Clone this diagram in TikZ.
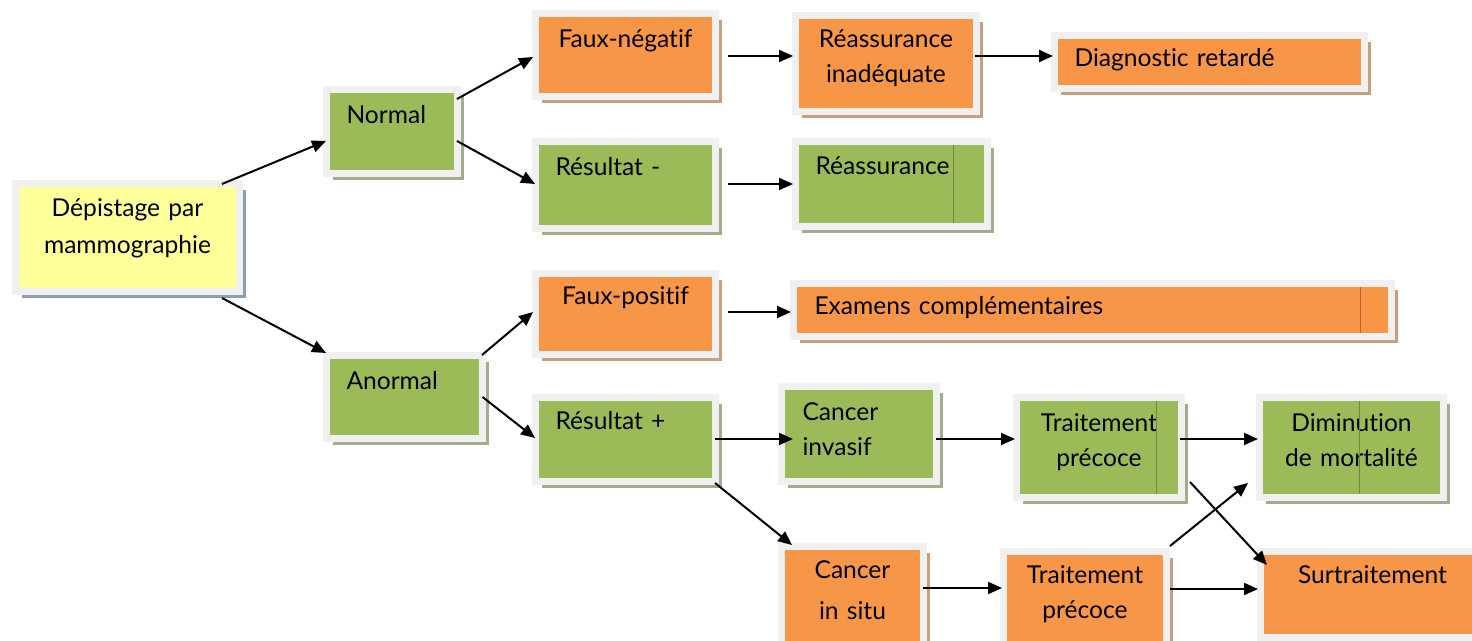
\documentclass[tikz,border=0pt]{standalone}
\usepackage{fontspec}
\setmainfont{Lato}[Ligatures={NoCommon}]
\usetikzlibrary{arrows.meta,shadows}

\newlength\px
\setlength\px{0.02cm}

\definecolor{boxframe}{HTML}{F0F0F0}
\definecolor{boxgreen}{HTML}{9BBB59}
\definecolor{boxorange}{HTML}{F79646}
\definecolor{boxyellow}{HTML}{FFFF99}
\definecolor{shadowgreen}{HTML}{A3AD8C}
\definecolor{shadoworange}{HTML}{C9A07E}
\definecolor{shadowyellow}{HTML}{8E9CB6}
\definecolor{gridgreen}{HTML}{6F8A3C}
\definecolor{gridorange}{HTML}{B5652E}

\begin{document}
\begin{tikzpicture}[x=1\px,y=-1\px]

\tikzset{
  BoxStyle/.style = { rectangle, draw = boxframe, line width = 7\px,
                      outer sep = 0pt, inner ysep = 0pt, inner xsep = 4\px,
                      anchor = north west,
                      font = \fontsize{14}{19.4}\selectfont },
  GreenStyle/.style = { BoxStyle, fill = boxgreen,
                        drop shadow = {shadow xshift = 6.5\px, shadow yshift = -6.5\px,
                                       fill = shadowgreen, opacity = 1} },
  OrangeStyle/.style = { BoxStyle, fill = boxorange,
                         drop shadow = {shadow xshift = 6.5\px, shadow yshift = -6.5\px,
                                        fill = shadoworange, opacity = 1} },
  YellowStyle/.style = { BoxStyle, fill = boxyellow,
                         drop shadow = {shadow xshift = 6.5\px, shadow yshift = -6.5\px,
                                        fill = shadowyellow, opacity = 1} },
  ArrowStyle/.style = { line width = 0.04cm, -{Triangle[length = 0.28cm, width = 0.24cm]} },
  GridStyle/.style = { line width = 0.5pt } }

  \useasboundingbox (0,0) rectangle (1472,641);
  \clip (0,0) rectangle (1472,641);

  \node[YellowStyle, align=center, text width=216\px, text height=33.5\px, text depth=74.5\px] (dep) at (15.5,183.5) {Dépistage par\\[2\px]mammographie};

  \node[GreenStyle, align=left, inner xsep=20\px, text width=91\px, text height=34.5\px, text depth=49.5\px] (nor) at (326.5,89.5) {Normal};
  \node[GreenStyle, align=left, inner xsep=20\px, text width=116\px, text height=34.5\px, text depth=48.5\px] (ano) at (326.5,355.5) {Anormal};

  \node[OrangeStyle, align=center, text width=172\px, text height=34.5\px, text depth=48.5\px] (fneg) at (535.5,13.5) {Faux-négatif};
  \node[GreenStyle, align=left, inner xsep=20\px, text width=140\px, text height=34.5\px, text depth=52.5\px] (rmin) at (535.5,141.5) {Résultat -};
  \node[OrangeStyle, align=center, text width=172\px, text height=31.5\px, text depth=49.5\px] (fpos) at (535.5,273.5) {Faux-positif};
  \node[GreenStyle, align=left, inner xsep=20\px, text width=140\px, text height=32.5\px, text depth=51.5\px] (rplus) at (535.5,397.5) {Résultat +};

  \node[OrangeStyle, align=center, text width=173\px, text height=32.5\px, text depth=63.5\px] (rinad) at (795.5,15.5) {Réassurance\\inadéquate};
  \node[GreenStyle, align=left, inner xsep=20\px, text width=152\px, text height=33.5\px, text depth=51.5\px] (reas) at (795.5,141.5) {Réassurance};
  \node[OrangeStyle, align=left, inner xsep=21\px, text width=556\px, text height=31.5\px, text depth=21.5\px] (exam) at (793.5,283.5) {Examens complémentaires};
  \node[GreenStyle, align=left, inner xsep=21\px, text width=113\px, text height=34.5\px, text depth=60.5\px] (cinv) at (781.5,386.5) {Cancer\\invasif};
  \node[OrangeStyle, align=center, text width=134\px, text height=32.5\px, text depth=67.5\px] (csit) at (781.5,546.5) {Cancer\\[6\px]in situ};

  \node[OrangeStyle, align=left, inner xsep=20\px, text width=270\px, text height=31.5\px, text depth=21.5\px] (diag) at (1054.5,35.5) {Diagnostic retardé};
  \node[GreenStyle, align=center, text width=157\px, text height=34.5\px, text depth=65.5\px] (tv) at (1016.5,397.5) {Traitement\\précoce};
  \node[OrangeStyle, align=center, text width=155\px, text height=32.5\px, text depth=62.5\px] (to) at (1003.5,551.5) {Traitement\\précoce};

  \node[GreenStyle, align=center, text width=176\px, text height=34.5\px, text depth=65.5\px] (dim) at (1259.5,397.5) {Diminution\\de mortalité};
  \node[OrangeStyle, align=center, text width=216\px, text height=32.5\px, text depth=53.5\px] (surt) at (1260.5,551.5) {Surtraitement};

  % grid lines showing through the boxes
  \draw[GridStyle, gridgreen] ([shift={(157.5,3.5)}]reas.north west) -- ([shift={(157.5,-3.5)}]reas.south west);
  \draw[GridStyle, gridgreen] ([shift={(139.5,3.5)}]tv.north west) -- ([shift={(139.5,-3.5)}]tv.south west);
  \draw[GridStyle, gridgreen] ([shift={(99.5,3.5)}]dim.north west) -- ([shift={(99.5,-3.5)}]dim.south west);
  \draw[GridStyle, gridorange] ([shift={(566.5,3.5)}]exam.north west) -- ([shift={(566.5,-3.5)}]exam.south west);

  \draw[ArrowStyle] ([shift={(-17.5,0.5)}]dep.north east) -- ([shift={(-0.5,9.5)}]nor.west);
  \draw[ArrowStyle] ([shift={(-17.5,6.5)}]dep.south east) -- ([shift={(-0.5,-2.5)}]ano.north west);

  \draw[ArrowStyle] ([shift={(-0.5,9.5)}]nor.north east) -- ([shift={(-2.5,2)}]fneg.west);
  \draw[ArrowStyle] ([shift={(-0.5,9.5)}]nor.east) -- ([shift={(-0.5,-1)}]rmin.west);
  \draw[ArrowStyle] ([shift={(-0.5,-0.5)}]ano.north east) -- ([shift={(-2.5,-2)}]fpos.west);
  \draw[ArrowStyle] (ano.east) -- ([shift={(-0.5,-1.5)}]rplus.west);

  \draw[ArrowStyle] ([shift={(12.5,1)}]fneg.east) -- ([shift={(-2.5,-7.5)}]rinad.west);
  \draw[ArrowStyle] ([shift={(-1.5,-7.5)}]rinad.east) -- ([shift={(-1.5,-6)}]diag.west);
  \draw[ArrowStyle] ([shift={(12.5,-1)}]rmin.east) -- ([shift={(-2.5,0)}]reas.west);
  \draw[ArrowStyle] ([shift={(12.5,-2)}]fpos.east) -- ([shift={(-2.5,2)}]exam.west);

  \draw[ArrowStyle] ([shift={(-0.5,-0.5)}]rplus.east) -- ([shift={(11.5,5)}]cinv.west);
  \draw[ArrowStyle] ([shift={(-0.5,1.5)}]rplus.south east) -- ([shift={(10.5,-1.5)}]csit.north west);
  \draw[ArrowStyle] ([shift={(-0.5,5)}]cinv.east) -- ([shift={(-1.5,-8.5)}]tv.west);
  \draw[ArrowStyle] ([shift={(-0.5,-8.5)}]csit.east) -- ([shift={(-1.5,-11)}]to.west);

  \draw[ArrowStyle] ([shift={(-1.5,-8.5)}]tv.east) -- ([shift={(-1.5,-8.5)}]dim.west);
  \draw[ArrowStyle] ([shift={(8.5,-15.5)}]tv.south east) -- ([shift={(6.5,13.5)}]surt.north west);
  \draw[ArrowStyle] ([shift={(3.5,-5.5)}]to.north east) -- ([shift={(-11.5,-14.5)}]dim.south west);
  \draw[ArrowStyle] ([shift={(3.5,-10)}]to.east) -- ([shift={(-2.5,-5.5)}]surt.west);

\end{tikzpicture}
\end{document}
